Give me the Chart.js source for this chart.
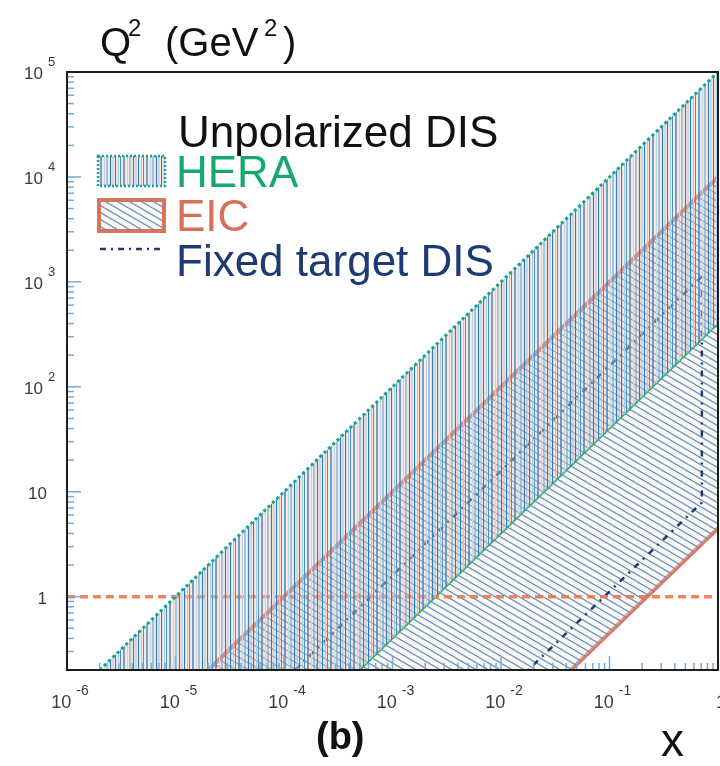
<!DOCTYPE html>
<html>
<head>
<meta charset="utf-8">
<script src="https://cdn.jsdelivr.net/npm/chart.js@4.4.0/dist/chart.umd.min.js"></script>
<style>
html, body { margin: 0; padding: 0; background: #fff; }
#wrap { width: 720px; height: 766px; }
</style>
</head>
<body>
<div id="wrap"><canvas id="chart" width="720" height="766"></canvas></div>
<script>
// axes
const xRange = [1e-6, 1];
const yRange = [0.2, 1e5];
const xTicks = [1e-6, 1e-5, 1e-4, 1e-3, 1e-2, 1e-1, 1];
const xTickLabels = [["10", "-6"], ["10", "-5"], ["10", "-4"], ["10", "-3"], ["10", "-2"], ["10", "-1"], ["1", ""]];
const yTicks = [1, 10, 100, 1e3, 1e4, 1e5];
const yTickLabels = [["1", ""], ["10", ""], ["10", "2"], ["10", "3"], ["10", "4"], ["10", "5"]];

// region edges, as [x, Q2]
const heraUpper = [[2e-6, 0.2], [1, 1e5]];
const heraLower = [[5e-4, 0.2], [1, 400]];
const eicUpper = [[2e-5, 0.2], [1, 1e4]];
const eicLower = [[0.044, 0.2], [1, 4.5]];
const fixedTarget = [[1.26e-4, 0.2], [0.71, 1125], [0.71, 7.9], [0.0178, 0.2]];
const q2One = [[1e-6, 1], [1, 1]];

const legendHeader = "Unpolarized DIS";
const legendNames = ["HERA", "EIC", "Fixed target DIS"];

const FONT = "'Liberation Sans', Arial, sans-serif";
const heraGreen = "#17a38f";
const heraText = "#14a86a";
const eicRed = "rgba(212,106,86,0.92)";
const fixedBlue = "#1d3a72";

const pts = arr => arr.map(([x, y]) => ({x, y}));

function vHatch() {
  const c = document.createElement("canvas");
  c.width = 23; c.height = 4;
  const g = c.getContext("2d");
  g.fillStyle = "rgba(240,200,185,0.4)";
  g.fillRect(0, 0, 23, 4);
  [[0.5, "#2c7cbd", 1.2], [3.5, "#a9cbe6", 1], [5.5, "#4b91c9", 1], [9, "#3582c2", 1.4],
   [12.5, "#bcd6ea", 1], [15, "#5a9bd0", 1], [18.5, "#2f7fbf", 1.2], [21, "#9fc5e3", 1]]
    .forEach(([x, col, w]) => {
      g.strokeStyle = col; g.lineWidth = w;
      g.beginPath(); g.moveTo(x, 0); g.lineTo(x, 4); g.stroke();
    });
  return g.createPattern(c, "repeat");
}

function dHatch() {
  const w = 12, h = 7;
  const c = document.createElement("canvas");
  c.width = w; c.height = h;
  const g = c.getContext("2d");
  g.fillStyle = "rgba(250,228,215,0.3)";
  g.fillRect(0, 0, w, h);
  g.strokeStyle = "#5a92c6"; g.lineWidth = 1.2;
  for (const dy of [-h, 0, h]) {
    g.beginPath(); g.moveTo(-w, dy - h); g.lineTo(2 * w, dy + 2 * h); g.stroke();
  }
  return g.createPattern(c, "repeat");
}

const heraFill = vHatch();
const eicFill = dHatch();

function drawPowerLabel(ctx, base, exp, x, y, align, baseSize, expSize) {
  ctx.font = baseSize + "px " + FONT;
  const bw = ctx.measureText(base).width;
  ctx.font = expSize + "px " + FONT;
  const ew = exp ? ctx.measureText(exp).width + 5 : 0;
  let left = align === "center" ? x - (bw + ew) / 2 : x - bw;
  ctx.textAlign = "left";
  ctx.font = baseSize + "px " + FONT;
  ctx.fillText(base, left, y);
  if (exp) {
    ctx.font = expSize + "px " + FONT;
    ctx.fillText(exp, left + bw + 5, y - baseSize * 0.75);
  }
}

const decor = {
  id: "decor",
  afterDraw(chart) {
    const {ctx, chartArea: a, scales: {x, y}} = chart;
    ctx.save();

    // tick marks inside the frame
    ctx.strokeStyle = "#78acd8";
    ctx.lineWidth = 1.5;
    for (let d = -1; d <= 4; d++) {
      for (let m = 1; m <= 9; m++) {
        const v = m * Math.pow(10, d);
        if (v < yRange[0] || v > yRange[1]) continue;
        const py = y.getPixelForValue(v);
        ctx.beginPath(); ctx.moveTo(a.left, py); ctx.lineTo(a.left + (m === 1 ? 14 : 7), py); ctx.stroke();
      }
    }
    for (let d = -6; d <= -1; d++) {
      for (let m = 1; m <= 9; m++) {
        const px = x.getPixelForValue(m * Math.pow(10, d));
        ctx.beginPath(); ctx.moveTo(px, a.bottom); ctx.lineTo(px, a.bottom - (m === 1 ? 14 : 7)); ctx.stroke();
      }
    }

    // frame
    ctx.strokeStyle = "#1c1c1c";
    ctx.lineWidth = 2;
    ctx.strokeRect(a.left, a.top, a.right - a.left, a.bottom - a.top);

    // tick labels
    ctx.fillStyle = "#3a3a3a";
    ctx.textBaseline = "alphabetic";
    xTicks.forEach((v, i) => {
      const px = x.getPixelForValue(v);
      drawPowerLabel(ctx, xTickLabels[i][0], xTickLabels[i][1], px + 3, a.bottom + 38, "center", 18, 14);
    });
    yTicks.forEach((v, i) => {
      const py = y.getPixelForValue(v);
      const [b, e] = yTickLabels[i];
      drawPowerLabel(ctx, b, e, e ? 43 : 47, py + 7, "right", 17, 13);
    });

    // axis titles
    ctx.fillStyle = "#111";
    ctx.textAlign = "left";
    ctx.font = "40px " + FONT;
    ctx.fillText("Q", 100, 56);
    ctx.fillText("(GeV", 165, 56);
    ctx.fillText(")", 283, 56);
    ctx.font = "24px " + FONT;
    ctx.fillText("2", 128, 36);
    ctx.fillText("2", 264, 36);

    ctx.font = "bold 38px " + FONT;
    ctx.fillText("(b)", 316, 749);
    ctx.font = "46px " + FONT;
    ctx.fillText("x", 661, 756);

    // legend
    ctx.font = "44px " + FONT;
    ctx.fillStyle = "#111";
    ctx.fillText(legendHeader, 178, 147);

    ctx.fillStyle = heraFill;
    ctx.fillRect(98, 156, 67, 30);
    ctx.strokeStyle = heraGreen; ctx.lineWidth = 2.5; ctx.setLineDash([2, 2]);
    ctx.strokeRect(98, 156, 67, 30);
    ctx.setLineDash([]);
    ctx.font = "44px " + FONT;
    ctx.fillStyle = heraText;
    ctx.fillText(legendNames[0], 176, 187);

    ctx.fillStyle = eicFill;
    ctx.fillRect(99, 200, 65, 31);
    ctx.strokeStyle = eicRed; ctx.lineWidth = 4;
    ctx.strokeRect(99, 200, 65, 31);
    ctx.fillStyle = "#d6705a";
    ctx.fillText(legendNames[1], 176, 231);

    ctx.strokeStyle = fixedBlue; ctx.lineWidth = 2.5; ctx.setLineDash([6, 5, 2, 5]);
    ctx.beginPath(); ctx.moveTo(100, 249); ctx.lineTo(163, 249); ctx.stroke();
    ctx.setLineDash([]);
    ctx.fillStyle = fixedBlue;
    ctx.fillText(legendNames[2], 176, 276);

    ctx.restore();
  }
};

new Chart(document.getElementById("chart"), {
  type: "line",
  data: {
    datasets: [
      {label: "HERA", data: pts(heraUpper), borderColor: heraGreen, borderWidth: 3, borderDash: [3, 3],
        fill: "+1", backgroundColor: heraFill},
      {label: "HERA edge", data: pts([heraUpper[0], ...heraLower]), borderColor: "rgba(0,0,0,0)", borderWidth: 1, fill: false},
      {label: "Q2 = 1", data: pts(q2One), borderColor: "rgba(240,110,70,0.85)", borderWidth: 3.5, borderDash: [8, 5], fill: false},
      {label: "HERA low", data: pts(heraLower), borderColor: "#2bb06a", borderWidth: 2, fill: false},
      {label: "Fixed target DIS", data: pts(fixedTarget), borderColor: fixedBlue, borderWidth: 2.5, borderDash: [6, 6, 2, 6], fill: false},
      {label: "EIC", data: pts(eicUpper), borderColor: eicRed, borderWidth: 4, fill: "+1", backgroundColor: eicFill},
      {label: "EIC edge", data: pts([eicUpper[0], ...eicLower]), borderColor: "rgba(0,0,0,0)", borderWidth: 1, fill: false},
      {label: "EIC low", data: pts(eicLower), borderColor: eicRed, borderWidth: 4, fill: false}
    ]
  },
  options: {
    responsive: false,
    animation: false,
    events: [],
    layout: {padding: {top: 72, right: 2, left: 0, bottom: 0}},
    elements: {point: {radius: 0}, line: {tension: 0}},
    plugins: {legend: {display: false}, tooltip: {enabled: false}},
    scales: {
      x: {
        type: "logarithmic", min: xRange[0], max: xRange[1],
        ticks: {display: false}, grid: {display: false}, border: {display: false},
        afterFit: s => { s.height = 96; }
      },
      y: {
        type: "logarithmic", min: yRange[0], max: yRange[1],
        ticks: {display: false}, grid: {display: false}, border: {display: false},
        afterFit: s => { s.width = 67; }
      }
    }
  },
  plugins: [decor]
});
</script>
</body>
</html>
